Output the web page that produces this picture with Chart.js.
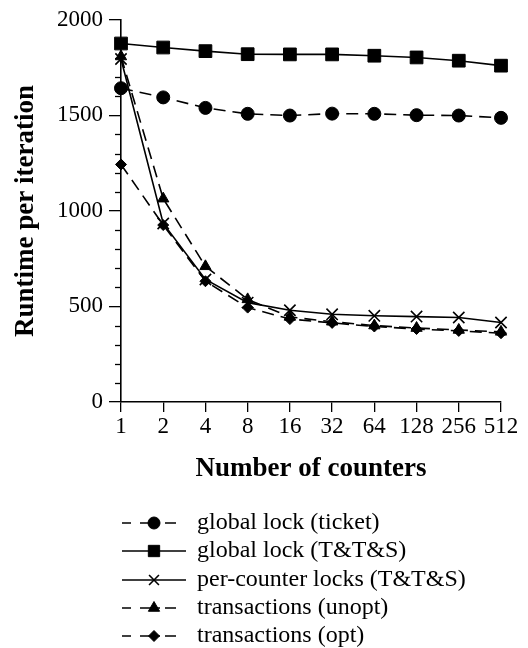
<!DOCTYPE html>
<html>
<head>
<meta charset="utf-8">
<script src="https://cdn.jsdelivr.net/npm/chart.js@4"></script>
<style>
  html, body { margin: 0; padding: 0; background: #fff; }
  #wrap { width: 528px; height: 648px; position: relative; }
</style>
</head>
<body>
<div id="wrap"><canvas id="runtime"></canvas></div>
<script>
// number of counters (log2 spaced, shown evenly)
const counters = ["1", "2", "4", "8", "16", "32", "64", "128", "256", "512"];

// runtime per iteration
const ticketLock = [1642, 1594, 1539, 1508, 1499, 1509, 1508, 1501, 1499, 1487];
const globalTTS = [1876, 1855, 1836, 1820, 1819, 1819, 1812, 1803, 1786, 1760];
const perCounterTTS = [1795, 934, 641, 520, 480, 459, 451, 447, 442, 416];
const txUnopt = [1808, 1064, 710, 537, 445, 420, 400, 387, 377, 367];
const txOpt = [1243, 926, 632, 494, 434, 414, 395, 382, 372, 360];

const seriesNames = ["global lock (ticket)", "global lock (T&T&S)", "per-counter locks (T&T&S)", "transactions (unopt)", "transactions (opt)"];

const serif = "'Liberation Serif', 'DejaVu Serif', serif";
const dash = [12, 7];

function series(label, data, style, radius, dashed) {
    return {
        label: label,
        data: data,
        borderColor: "#000",
        backgroundColor: "#000",
        borderWidth: 1.6,
        borderDash: dashed ? dash : [],
        pointStyle: style,
        pointRadius: radius,
        pointBorderWidth: style === "crossRot" ? 1.6 : 1,
        pointBorderColor: "#000",
        pointBackgroundColor: "#000",
        tension: 0
    };
}

// legend marker sizes (smaller than in the plot)
const legendRadius = { circle: 6, rect: 8, crossRot: 7, triangle: 6.5, rectRot: 5.5 };

// axis titles, minor ticks and the legend under the plot
const extras = {
    id: "extras",
    afterDraw(chart) {
        const ctx = chart.ctx;
        const area = chart.chartArea;
        const y = chart.scales.y;
        ctx.save();
        ctx.strokeStyle = "#000";
        ctx.fillStyle = "#000";
        ctx.lineWidth = 1.3;
        // minor ticks every 100
        for (let v = 100; v < 2000; v += 100) {
            if (v % 500 === 0) continue;
            const py = Math.round(y.getPixelForValue(v)) + 0.5;
            ctx.beginPath();
            ctx.moveTo(area.left - 6, py);
            ctx.lineTo(area.left, py);
            ctx.stroke();
        }
        // axis titles
        ctx.font = "bold 27px " + serif;
        ctx.textAlign = "center";
        ctx.textBaseline = "middle";
        ctx.fillText("Number of counters", (area.left + area.right) / 2, 469);
        ctx.save();
        ctx.translate(26, 211);
        ctx.rotate(-Math.PI / 2);
        ctx.fillText("Runtime per iteration", 0, 0);
        ctx.restore();
        // legend
        const rows = [523, 551, 580, 608, 636];
        ctx.font = "24px " + serif;
        ctx.textAlign = "left";
        chart.data.datasets.forEach((ds, i) => {
            const ly = rows[i];
            ctx.lineWidth = 1.6;
            ctx.beginPath();
            if (ds.borderDash.length) {
                ctx.moveTo(122, ly); ctx.lineTo(131, ly);
                ctx.moveTo(140, ly); ctx.lineTo(160, ly);
                ctx.moveTo(165, ly); ctx.lineTo(176, ly);
            } else {
                ctx.moveTo(122, ly); ctx.lineTo(186, ly);
            }
            ctx.stroke();
            ctx.lineWidth = ds.pointBorderWidth;
            Chart.helpers.drawPoint(ctx, {
                pointStyle: ds.pointStyle,
                radius: legendRadius[ds.pointStyle],
                rotation: 0,
                borderWidth: ds.pointBorderWidth
            }, 154, ly);
            ctx.fillText(seriesNames[i], 197, ly);
        });
        ctx.restore();
    }
};

new Chart("runtime", {
    type: "line",
    data: {
        labels: counters,
        datasets: [
            series(seriesNames[0], ticketLock, "circle", 6.5, true),
            series(seriesNames[1], globalTTS, "rect", 9, false),
            series(seriesNames[2], perCounterTTS, "crossRot", 8, false),
            series(seriesNames[3], txUnopt, "triangle", 6.5, true),
            series(seriesNames[4], txOpt, "rectRot", 5.5, true)
        ]
    },
    options: {
        responsive: true,
        maintainAspectRatio: false,
        animation: false,
        devicePixelRatio: 1,
        layout: { padding: { top: 16, right: 27, left: 0, bottom: 0 } },
        plugins: {
            legend: { display: false },
            tooltip: { enabled: false }
        },
        scales: {
            x: {
                type: "category",
                offset: false,
                grid: { drawOnChartArea: false, tickLength: 10, color: "#000", lineWidth: 1.3 },
                border: { display: true, color: "#000", width: 1.6 },
                ticks: { color: "#000", font: { family: serif, size: 23 }, padding: 1, maxRotation: 0, autoSkip: false },
                afterFit: (s) => { s.height = 246; }
            },
            y: {
                min: 0,
                max: 2000,
                grid: { drawOnChartArea: false, tickLength: 12, color: "#000", lineWidth: 1.3 },
                border: { display: true, color: "#000", width: 1.6 },
                ticks: {
                    stepSize: 500,
                    color: "#000",
                    font: { family: serif, size: 23 },
                    padding: 6,
                    callback: (v) => String(v)
                },
                afterFit: (s) => { s.width = 121; }
            }
        }
    },
    plugins: [extras]
});
</script>
</body>
</html>
